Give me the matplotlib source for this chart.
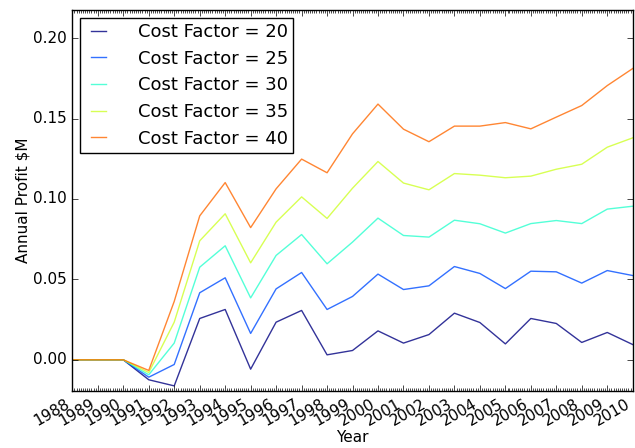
import datetime as dt
import numpy as np
import matplotlib
matplotlib.use("Agg")
import matplotlib.pyplot as plt
import matplotlib.dates as mdates

years = list(range(1988, 2011))
cost_factors = [20, 25, 30, 35, 40]

profit_cf20 = [0.0, 0.0, 0.0, -0.0124, -0.0162, 0.0257, 0.0313, -0.0058, 0.0234, 0.0307,
               0.0031, 0.0058, 0.0180, 0.0104, 0.0157, 0.0290, 0.0232, 0.0099, 0.0257,
               0.0226, 0.0108, 0.0170, 0.0095]
profit_cf25 = [0.0, 0.0, 0.0, -0.0108, -0.0029, 0.0417, 0.0510, 0.0164, 0.0441, 0.0543,
               0.0313, 0.0394, 0.0533, 0.0437, 0.0460, 0.0580, 0.0537, 0.0443, 0.0551,
               0.0547, 0.0477, 0.0555, 0.0524]
profit_cf30 = [0.0, 0.0, 0.0, -0.0093, 0.0104, 0.0576, 0.0709, 0.0385, 0.0649, 0.0779,
               0.0597, 0.0732, 0.0881, 0.0773, 0.0763, 0.0868, 0.0846, 0.0788, 0.0847,
               0.0866, 0.0847, 0.0937, 0.0955]
profit_cf35 = [0.0, 0.0, 0.0, -0.0079, 0.0234, 0.0740, 0.0908, 0.0603, 0.0856, 0.1013,
               0.0879, 0.1067, 0.1233, 0.1099, 0.1057, 0.1158, 0.1148, 0.1132, 0.1142,
               0.1185, 0.1216, 0.1322, 0.1380]
profit_cf40 = [0.0, 0.0, 0.0, -0.0066, 0.0363, 0.0895, 0.1102, 0.0822, 0.1063, 0.1248,
               0.1163, 0.1405, 0.1590, 0.1434, 0.1356, 0.1453, 0.1453, 0.1475, 0.1436,
               0.1509, 0.1581, 0.1705, 0.1811]

series = [profit_cf20, profit_cf25, profit_cf30, profit_cf35, profit_cf40]

plt.style.use("classic")
plt.rcParams["font.family"] = ["DejaVu Sans"]

fig = plt.figure(figsize=(6.35, 4.48), dpi=100, facecolor="white")
ax = fig.add_axes([0.1139, 0.1279, 0.8825, 0.8498])
ax.set_facecolor("white")

dates = [dt.date(y, 1, 1) for y in years]
colors = plt.cm.jet(np.linspace(0.0, 0.8, len(cost_factors)))
for cf, vals, col in zip(cost_factors, series, colors):
    ax.plot(dates, vals, color=col, alpha=0.8, lw=1.0, label="Cost Factor = %d" % cf)

ax.xaxis.set_major_locator(mdates.YearLocator())
ax.xaxis.set_major_formatter(mdates.DateFormatter("%Y"))
ax.xaxis.set_minor_locator(mdates.MonthLocator())
ax.set_xlim(dates[0], dates[-1])
ax.set_ylim(-0.0192, 0.2175)
ax.set_yticks([0.0, 0.05, 0.10, 0.15, 0.20])
ax.yaxis.set_major_formatter(matplotlib.ticker.FormatStrFormatter("%.2f"))

for lab in ax.get_xticklabels():
    lab.set_rotation(30)
    lab.set_ha("right")
ax.tick_params(labelsize=11)

ax.set_xlabel("Year", fontsize=11, labelpad=1)
ax.set_ylabel("Annual Profit $M", fontsize=11, labelpad=2)

leg = ax.legend(loc="upper left", fontsize=13, handlelength=1.45,
                handletextpad=1.45, labelspacing=0.48, borderpad=0.3,
                borderaxespad=0.42, frameon=True)

fig.savefig("out.png", dpi=100, facecolor="white")
